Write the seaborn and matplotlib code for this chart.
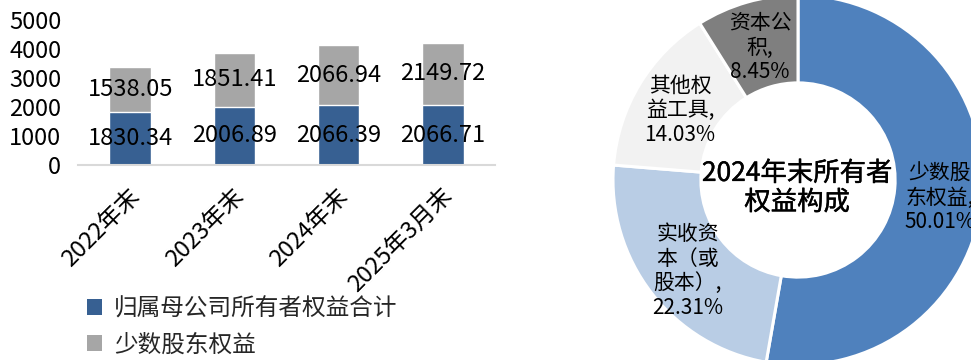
import matplotlib
matplotlib.use("Agg")
import matplotlib.pyplot as plt
import matplotlib.transforms as mtransforms
import matplotlib.patheffects as pe
import seaborn as sns
import pandas as pd
from matplotlib.patches import Patch

# ---- data ----
categories = ["2022年末", "2023年末", "2024年末", "2025年3月末"]
parent_equity = [1830.34, 2006.89, 2066.39, 2066.71]
minority_equity = [1538.05, 1851.41, 2066.94, 2149.72]
series_names = ["归属母公司所有者权益合计", "少数股东权益"]
yticks = [0, 1000, 2000, 3000, 4000, 5000]

pie_labels = ["少数股\n东权益", "实收资\n本（或\n股本）", "其他权\n益工具", "资本公\n积"]
pie_values = [50.01, 22.31, 14.03, 8.45]
pie_title = "2024年末所有者\n权益构成"

# ---- style ----
sns.set_theme(style="white")
plt.rcParams["font.family"] = ["Noto Sans CJK SC", "DejaVu Sans"]
plt.rcParams["axes.unicode_minus"] = False

BLUE = "#376092"
GREY = "#A6A6A6"
pie_colors = ["#4F81BD", "#B9CDE5", "#F2F2F2", "#7F7F7F"]

fig = plt.figure(figsize=(9.71, 3.60), dpi=100)

# ---- stacked bar chart ----
ax = fig.add_axes([78 / 971, 195 / 360, 417 / 971, 145 / 360])
df = pd.DataFrame({
    "cat": categories,
    "parent": parent_equity,
    "minority": minority_equity,
})
df["total"] = df["parent"] + df["minority"]

sns.barplot(data=df, x="cat", y="total", color=GREY, width=0.4,
            saturation=1, ax=ax)
sns.barplot(data=df, x="cat", y="parent", color=BLUE, width=0.4,
            saturation=1, ax=ax)

for i, (p, m) in enumerate(zip(parent_equity, minority_equity)):
    ax.text(i, p / 2, f"{p:.2f}", ha="center", va="center",
            fontsize=17, color="black")
    ax.text(i, p + m / 2, f"{m:.2f}", ha="center", va="center",
            fontsize=17, color="black")

ax.set_ylim(0, 5000)
ax.set_xlim(-0.5, 3.5)
ax.set_yticks(yticks)
ax.set_yticklabels([str(v) for v in yticks], fontsize=17)
ax.set_xlabel("")
ax.set_ylabel("")
for s in ["left", "right", "top"]:
    ax.spines[s].set_visible(False)
ax.spines["bottom"].set_color("#D9D9D9")
ax.spines["bottom"].set_linewidth(1.5)
ax.tick_params(axis="y", length=0, pad=12, labelcolor="black")
ax.tick_params(axis="x", length=0, pad=20, labelcolor="black")
ax.set_xticks(range(len(categories)))
ax.set_xticklabels(categories, rotation=45, ha="right",
                   rotation_mode="anchor", fontsize=17, va="center")
offset = mtransforms.ScaledTranslation(0.06, 0, fig.dpi_scale_trans)
for lbl in ax.get_xticklabels():
    lbl.set_transform(lbl.get_transform() + offset)
ax.grid(False)

handles = [Patch(facecolor=BLUE, edgecolor="none"),
           Patch(facecolor=GREY, edgecolor="none")]
fig.legend(handles, series_names, loc="center left",
           bbox_to_anchor=(87 / 971, 33 / 360), frameon=False,
           fontsize=17, handlelength=0.65, handleheight=0.65,
           handletextpad=0.5, labelspacing=0.55, borderpad=0,
           borderaxespad=0)

# ---- donut chart ----
R = 185
cx, cy = 798, 180
ax2 = fig.add_axes([(cx - R) / 971, (360 - cy - R) / 360,
                    2 * R / 971, 2 * R / 360])
ax2.pie(pie_values, colors=pie_colors, startangle=90, counterclock=False,
        radius=1.0, wedgeprops=dict(width=0.475, edgecolor="white",
                                    linewidth=2.2))
ax2.set_xlim(-1, 1)
ax2.set_ylim(-1, 1)
ax2.axis("off")

label_pos = [(0.765, -0.097), (-0.595, -0.492), (-0.638, 0.378),
             (-0.205, 0.714)]
for (x, y), name, v in zip(label_pos, pie_labels, pie_values):
    ax2.text(x, y, f"{name},\n{v:.2f}%", ha="center", va="center",
             fontsize=15, color="black", linespacing=1.15,
             multialignment="center", clip_on=False)

ax2.text(-0.005, -0.043, pie_title, ha="center", va="center",
         fontsize=19, color="black", linespacing=1.1,
         path_effects=[pe.withStroke(linewidth=0.3, foreground="black")])

fig.savefig("out.png", dpi=100)
